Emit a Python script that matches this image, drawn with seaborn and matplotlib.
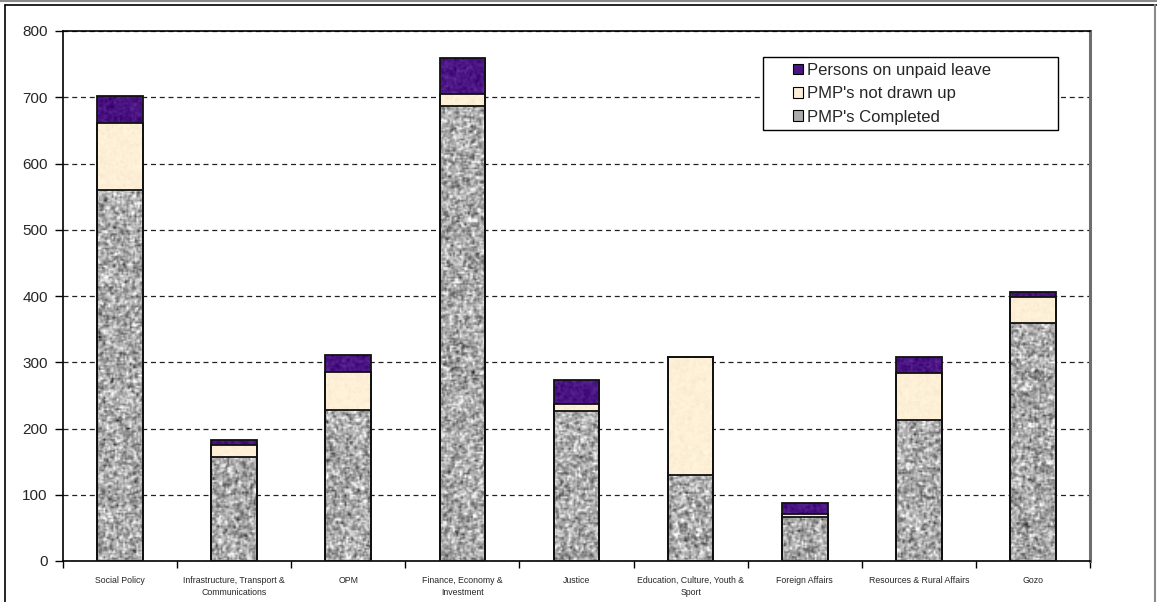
import numpy as np
import pandas as pd
import matplotlib
matplotlib.use("Agg")
import matplotlib.pyplot as plt
from matplotlib.patches import Rectangle, Patch
from matplotlib.lines import Line2D
import seaborn as sns

# Staff per ministry: Performance Management Programmes (PMP) status
ministries = [
    "Social Policy",
    "Infrastructure, Transport &\nCommunications",
    "OPM",
    "Finance, Economy &\nInvestment",
    "Justice",
    "Education, Culture, Youth &\nSport",
    "Foreign Affairs",
    "Resources & Rural Affairs",
    "Gozo",
]
pmp_completed = [560, 157, 228, 687, 226, 130, 66, 213, 359]
pmp_not_drawn = [101, 18, 57, 18, 11, 178, 5, 71, 39]
unpaid_leave = [41, 8, 26, 54, 36, 0, 17, 24, 8]

series_names = ["PMP's Completed", "PMP's not drawn up", "Persons on unpaid leave"]
series_colors = ["#ababab", "#fdf0d6", "#4a1483"]

df = pd.DataFrame({
    "ministry": ministries,
    "completed": pmp_completed,
    "not_drawn": pmp_not_drawn,
    "unpaid": unpaid_leave,
})
df["lvl1"] = df["completed"]
df["lvl2"] = df["completed"] + df["not_drawn"]
df["lvl3"] = df["lvl2"] + df["unpaid"]

sns.set_theme(style="white")
plt.rcParams["font.family"] = ["Liberation Sans", "DejaVu Sans"]

fig = plt.figure(figsize=(11.57, 6.02), dpi=100)
ax = fig.add_axes([63 / 1157, 1 - 561 / 602, (1090 - 63) / 1157, (561 - 31) / 602])

# Stacked bars: draw cumulative totals from the top layer down
layers = [("lvl3", series_colors[2]), ("lvl2", series_colors[1]), ("lvl1", series_colors[0])]
for col, color in layers:
    sns.barplot(data=df, x="ministry", y=col, color=color, width=0.4,
                saturation=1, ax=ax, edgecolor="none", linewidth=0, zorder=2)

rng = np.random.default_rng(7)
PX_PER_UNIT = 530 / 800


def texture(base, strength, rows, cols):
    """Granite-like fill: coarse noise, lightly smoothed."""
    base = np.array(matplotlib.colors.to_rgb(base))
    noise = rng.normal(0, strength, size=(rows + 2, cols + 2))
    smooth = (noise[1:-1, 1:-1] * 0.5
              + 0.125 * (noise[:-2, 1:-1] + noise[2:, 1:-1] + noise[1:-1, :-2] + noise[1:-1, 2:]))
    smooth = smooth * 1.6
    img = np.clip(base[None, None, :] + smooth[:, :, None], 0, 1)
    return img


tex_strength = {series_colors[0]: 0.16, series_colors[1]: 0.012, series_colors[2]: 0.04}
for container, (col, color) in zip(ax.containers, layers):
    for patch in container.patches:
        x0, y0 = patch.get_x(), patch.get_y()
        w, h = patch.get_width(), patch.get_height()
        if h > 0:
            rows = max(int(h * PX_PER_UNIT / 1.6), 2)
            img = texture(color, tex_strength[color], rows, 28)
            im = ax.imshow(img, extent=(x0, x0 + w, y0, y0 + h), aspect="auto",
                           interpolation="bilinear", zorder=3)
            im.set_clip_path(patch)
        ax.add_patch(Rectangle((x0, y0), w, h, fill=False, edgecolor="#111111",
                               linewidth=1.3, zorder=5))

ax.set_xlim(-0.5, len(ministries) - 0.5)
ax.set_ylim(0, 800)
ax.set_aspect("auto")
ax.set_xlabel("")
ax.set_ylabel("")

# Axes and gridlines
ax.set_yticks(np.arange(0, 801, 100))
ax.yaxis.grid(True, linestyle=(0, (4, 3)), color="#222222", linewidth=0.9, zorder=1)
ax.set_axisbelow(True)
ax.tick_params(axis="y", which="major", left=True, length=6, width=1, color="black",
               labelsize=11, pad=5)
ax.set_xticks(range(len(ministries)))
ax.set_xticklabels(ministries, fontsize=6.3, linespacing=1.4)
ax.tick_params(axis="x", which="major", bottom=False, pad=5)
ax.set_xticks(np.arange(-0.5, len(ministries), 1.0), minor=True)
ax.tick_params(axis="x", which="minor", bottom=True, length=5, width=1, color="black")

for side in ["left", "bottom", "top"]:
    ax.spines[side].set_color("black")
    ax.spines[side].set_linewidth(1.2)
ax.spines["right"].set_color("#6e6e6e")
ax.spines["right"].set_linewidth(2.2)

# Legend with its own box
lx0 = (763 - 63) / 1027
lx1 = (1058 - 63) / 1027
ly0 = (561 - 130) / 530
ly1 = (561 - 57) / 530
ax.add_patch(Rectangle((lx0, ly0), lx1 - lx0, ly1 - ly0, transform=ax.transAxes,
                       facecolor="white", edgecolor="black", linewidth=1.0, zorder=9))
handles = [Patch(facecolor=c, edgecolor="black", linewidth=0.8)
           for c in [series_colors[2], series_colors[1], series_colors[0]]]
labels = [series_names[2], series_names[1], series_names[0]]
leg = ax.legend(handles, labels, loc="upper left",
                bbox_to_anchor=((782 - 63) / 1027, (561 - 52) / 530),
                frameon=False, fontsize=12, handlelength=0.6, handleheight=0.6,
                handletextpad=0.25, labelspacing=0.5, borderpad=0.15)
leg.set_zorder(10)

# Outer chart frame
fig.add_artist(Line2D([0, 1], [1 - 1 / 602, 1 - 1 / 602], transform=fig.transFigure,
                      color="#8a8a8a", linewidth=1.5))
fig.add_artist(Line2D([5 / 1157, 1], [1 - 4.5 / 602, 1 - 4.5 / 602], transform=fig.transFigure,
                      color="black", linewidth=1.2))
fig.add_artist(Line2D([5 / 1157, 5 / 1157], [0, 1 - 4.5 / 602], transform=fig.transFigure,
                      color="black", linewidth=1.2))
fig.add_artist(Line2D([1155 / 1157, 1155 / 1157], [0, 1 - 4.5 / 602], transform=fig.transFigure,
                      color="#8a8a8a", linewidth=1.5))

fig.savefig("out.png", dpi=100)
